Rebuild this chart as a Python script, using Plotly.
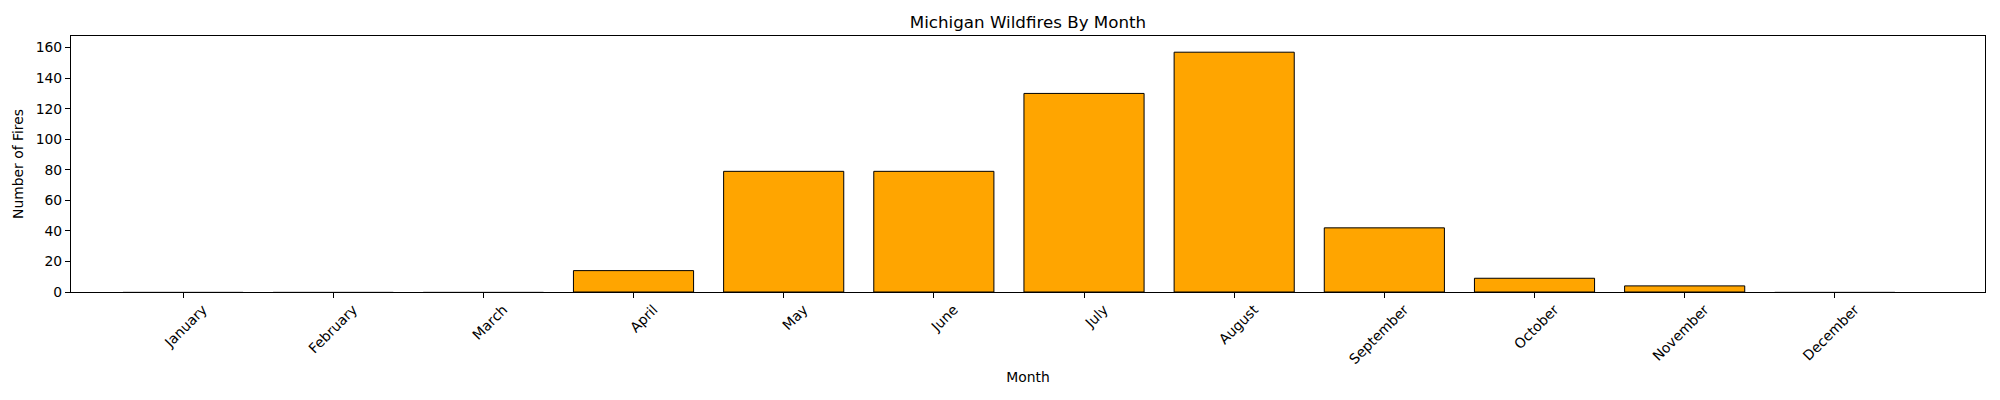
import plotly.graph_objects as go

months = ["January", "February", "March", "April", "May", "June",
          "July", "August", "September", "October", "November", "December"]
fires = [0, 0, 0, 14, 79, 79, 130, 157, 42, 9, 4, 0]

title_text = "Michigan Wildfires By Month"
x_title = "Month"
y_title = "Number of Fires"
y_ticks = [0, 20, 40, 60, 80, 100, 120, 140, 160]

FONT = "DejaVu Sans"

# zero-height bars render as a faint grey hairline in the reference
edge_colors = ["black" if v > 0 else "#c8c8c8" for v in fires]

fig = go.Figure()
fig.add_trace(go.Bar(
    x=months,
    y=fires,
    width=0.8,
    marker=dict(color="#FFA500", line=dict(color=edge_colors, width=1)),
))

fig.update_layout(
    width=2000,
    height=400,
    margin=dict(l=71, r=15, t=36, b=108),
    paper_bgcolor="white",
    plot_bgcolor="white",
    showlegend=False,
    font=dict(family=FONT, size=14, color="black"),
    title=dict(text=title_text, x=0.5, xanchor="center", xref="paper",
               y=1 - 21.7 / 400, yanchor="middle", yref="container",
               font=dict(family=FONT, size=16.7, color="black")),
    bargap=0.2,
)

fig.update_xaxes(
    range=[-0.746, 12.0],
    showline=True, linecolor="black", linewidth=1.1, mirror=True,
    ticks="outside", ticklen=5, tickwidth=1.1, tickcolor="black",
    tickangle=-45,
    ticklabelshift=20,
    ticklabelstandoff=-2,
    tickfont=dict(family=FONT, size=13.9, color="black"),
    showgrid=False, zeroline=False,
    title=dict(text=x_title, standoff=6, font=dict(family=FONT, size=13.9, color="black")),
)

fig.update_yaxes(
    range=[0, 167.6],
    tickvals=y_ticks,
    showline=True, linecolor="black", linewidth=1.1, mirror=True,
    ticks="outside", ticklen=5, tickwidth=1.1, tickcolor="black",
    tickfont=dict(family=FONT, size=13.9, color="black"),
    showgrid=False, zeroline=False,
    title=dict(text=y_title, standoff=8, font=dict(family=FONT, size=13.9, color="black")),
)

fig.write_html("out.html", config={"displayModeBar": False},
               post_script="document.body.style.margin='0';")
